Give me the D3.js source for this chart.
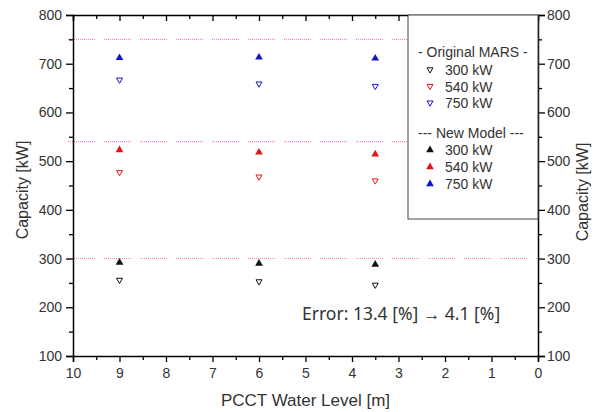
<!DOCTYPE html>
<html><head><meta charset="utf-8">
<script src="https://cdn.jsdelivr.net/npm/d3@7"></script>
<style>body{margin:0;background:#fff;} text{font-family:"Liberation Sans",Arial,sans-serif;}</style>
</head><body><svg id="c" width="599" height="412"></svg>
<script>
const levels = [9, 6, 3.5];
const mars300 = [255, 252, 245];
const mars540 = [476, 467, 459];
const mars750 = [666, 658, 653];
const new300 = [292, 290, 288];
const new540 = [523, 518, 514];
const new750 = [712, 713, 711];
const refLines = [300, 540, 750];
const xTicks = [10, 9, 8, 7, 6, 5, 4, 3, 2, 1, 0];
const yTicks = [100, 200, 300, 400, 500, 600, 700, 800];
const legendLabels = ["300 kW", "540 kW", "750 kW"];
const seriesColors = ["#111111", "#e01515", "#1515c8"];

const svg = d3.select("#c");
const L = 73, R = 538, T = 15, B = 356;
const x = d3.scaleLinear().domain([10, 0]).range([L, R]);
const y = d3.scaleLinear().domain([100, 800]).range([B, T]);
const tc = "#333";

// reference dotted lines
const dash = Array(13).fill("1,1").join(",") + ",1,9";
svg.append("g").selectAll("line").data(refLines).join("line")
  .attr("x1", L - 5).attr("x2", R).attr("y1", d => y(d)).attr("y2", d => y(d))
  .attr("stroke", (d, i) => i === 0 ? "#f06a8a" : "#f46ac8").attr("stroke-width", 1.1)
  .attr("stroke-opacity", 0.8)
  .attr("stroke-dasharray", dash);

// axes
function styleAxis(g) {
  g.select(".domain").attr("stroke", "#000").attr("stroke-width", 1.5);
  g.selectAll(".tick line").attr("stroke", "#000").attr("stroke-width", 1.3);
  g.selectAll(".tick text").attr("fill", tc).style("font-size", "14px");
}
const xMinor = d3.range(0.5, 10, 1);
const yMinor = d3.range(150, 800, 100);
function minor(g) { g.select(".domain").remove(); g.selectAll("line").attr("stroke", "#000").attr("stroke-width", 1.3); }

const gb = svg.append("g").attr("transform", `translate(0,${B})`)
  .call(d3.axisBottom(x).tickValues(xTicks).tickFormat(d3.format("d")).tickSizeOuter(0).tickSize(6).tickPadding(6));
styleAxis(gb);
svg.append("g").attr("transform", `translate(0,${B})`)
  .call(d3.axisBottom(x).tickValues(xMinor).tickFormat("").tickSize(4)).call(minor);

const gt = svg.append("g").attr("transform", `translate(0,${T})`)
  .call(d3.axisTop(x).tickValues(xTicks).tickFormat("").tickSizeOuter(0).tickSize(-6));
styleAxis(gt);
svg.append("g").attr("transform", `translate(0,${T})`)
  .call(d3.axisTop(x).tickValues(xMinor).tickFormat("").tickSize(-4)).call(minor);

const gl = svg.append("g").attr("transform", `translate(${L},0)`)
  .call(d3.axisLeft(y).tickValues(yTicks).tickSizeOuter(0).tickSize(7).tickPadding(4));
styleAxis(gl);
svg.append("g").attr("transform", `translate(${L},0)`)
  .call(d3.axisLeft(y).tickValues(yMinor).tickFormat("").tickSize(4)).call(minor);

const gr = svg.append("g").attr("transform", `translate(${R},0)`)
  .call(d3.axisRight(y).tickValues(yTicks).tickSizeOuter(0).tickSize(7).tickPadding(2));
styleAxis(gr);
svg.append("g").attr("transform", `translate(${R},0)`)
  .call(d3.axisRight(y).tickValues(yMinor).tickFormat("").tickSize(4)).call(minor);

// axis titles
svg.append("text").attr("x", (L + R) / 2).attr("y", 406).attr("text-anchor", "middle")
  .attr("fill", tc).style("font-size", "17px").text("PCCT Water Level [m]");
svg.append("text").attr("transform", `translate(28,190) rotate(-90)`).attr("text-anchor", "middle")
  .attr("fill", tc).style("font-size", "16px").text("Capacity [kW]");
svg.append("text").attr("transform", `translate(588,192) rotate(-90)`).attr("text-anchor", "middle")
  .attr("fill", tc).style("font-size", "16px").text("Capacity [kW]");

// markers
const up = d3.symbol().type(d3.symbolTriangle).size(26);
const down = "M-3,-2.2L3,-2.2L0,3Z";
const marsSeries = [mars300, mars540, mars750];
const newSeries = [new300, new540, new750];
marsSeries.forEach((s, i) => {
  svg.append("g").selectAll("path").data(s).join("path")
    .attr("transform", (d, j) => `translate(${x(levels[j])},${y(d)})`)
    .attr("d", down).attr("fill", "#fff").attr("stroke", seriesColors[i]).attr("stroke-width", 1);
});
newSeries.forEach((s, i) => {
  svg.append("g").selectAll("path").data(s).join("path")
    .attr("transform", (d, j) => `translate(${x(levels[j])},${y(d)})`)
    .attr("d", up).attr("fill", seriesColors[i]);
});

// error annotation
svg.append("text").attr("x", 302).attr("y", 320).attr("fill", tc)
  .style("font-family", "'Noto Sans', sans-serif").style("font-size", "17.5px")
  .text("Error: 13.4 [%] \u2192 4.1 [%]");

// legend
const lg = svg.append("g");
lg.append("rect").attr("x", 408).attr("y", T).attr("width", R - 408).attr("height", 219 - T)
  .attr("fill", "#fff").attr("stroke", "#444").attr("stroke-width", 1);
lg.append("text").attr("x", 418).attr("y", 57).attr("fill", tc).style("font-size", "14px").text("- Original MARS -");
lg.append("text").attr("x", 418).attr("y", 138).attr("fill", tc).style("font-size", "14px").text("--- New Model ---");
legendLabels.forEach((lab, i) => {
  const y1 = 70 + i * 16.6, y2 = 150 + i * 17;
  lg.append("path").attr("transform", `translate(430,${y1})`).attr("d", down)
    .attr("fill", "#fff").attr("stroke", seriesColors[i]);
  lg.append("text").attr("x", 445).attr("y", y1 + 5).attr("fill", tc).style("font-size", "14px").text(lab);
  lg.append("path").attr("transform", `translate(430,${y2})`).attr("d", up).attr("fill", seriesColors[i]);
  lg.append("text").attr("x", 445).attr("y", y2 + 5).attr("fill", tc).style("font-size", "14px").text(lab);
});
</script></body></html>
